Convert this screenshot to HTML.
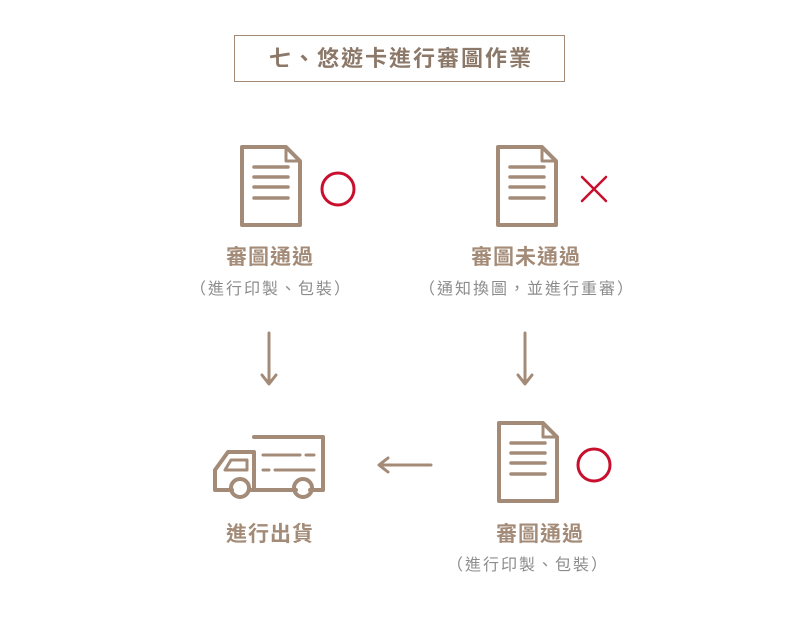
<!DOCTYPE html>
<html><head><meta charset="utf-8"><style>
body{margin:0;background:#fff;width:800px;height:618px;overflow:hidden;position:relative;font-family:"Noto Sans CJK TC","Liberation Sans",sans-serif}
.t{position:absolute;transform:translateX(-50%);white-space:nowrap;line-height:1.2}
.h{font-size:21px;font-weight:bold;color:#a38b78;letter-spacing:1px}
.s{font-size:16px;color:#8c8c8c;letter-spacing:2px}
</style></head><body>
<div style="position:absolute;left:234px;top:35px;width:329px;height:45px;border:1px solid #a38b78"></div>
<div class="t" style="left:401px;top:44px;font-size:22px;font-weight:bold;color:#8c7868;letter-spacing:2px">七、悠遊卡進行審圖作業</div>
<svg width="800" height="618" style="position:absolute;left:0;top:0" fill="none" stroke="#a38b78" stroke-width="4" stroke-linecap="round" stroke-linejoin="round">
<defs><g id="doc"><path d="M2 2H46L60 16V80H2Z"/><path d="M46 2V16H60" stroke-width="3"/><path d="M14 22H48M14 32H48M14 42H48M14 53H48" stroke-width="3.5"/></g></defs>
<use href="#doc" x="240" y="145"/>
<use href="#doc" x="496" y="145"/>
<use href="#doc" x="497" y="421"/>
<circle cx="338" cy="189" r="16" stroke="#c8102e" stroke-width="3"/>
<circle cx="594" cy="465" r="16" stroke="#c8102e" stroke-width="3"/>
<path d="M582 177L606 201M606 177L582 201" stroke="#c8102e" stroke-width="2.5"/>
<g stroke-width="3"><path d="M269 333V383M262 375L269 384L276 375"/><path d="M525 333V383M518 375L525 384L532 375"/><path d="M431 465H380M388 458L379 465L388 472"/></g>
<g stroke-width="4">
<path d="M254 437H323V490H310M296 490H249M232 490H215V470L228 452H254V490"/>
<path d="M225 470L231 460H247V470Z" stroke-width="3"/>
<circle cx="240" cy="488" r="9"/><circle cx="303" cy="488" r="9"/>
<path d="M263 455H300M306 455H314M263 470H269M275 470H314" stroke-width="3"/>
</g>
</svg>
<div class="t h" style="left:270px;top:244px">審圖通過</div>
<div class="t s" style="left:271px;top:278px">（進行印製、包裝）</div>
<div class="t h" style="left:526px;top:244px">審圖未通過</div>
<div class="t s" style="left:527px;top:278px">（通知換圖，並進行重審）</div>
<div class="t h" style="left:270px;top:521px">進行出貨</div>
<div class="t h" style="left:540px;top:521px">審圖通過</div>
<div class="t s" style="left:528px;top:554px">（進行印製、包裝）</div>
</body></html>
